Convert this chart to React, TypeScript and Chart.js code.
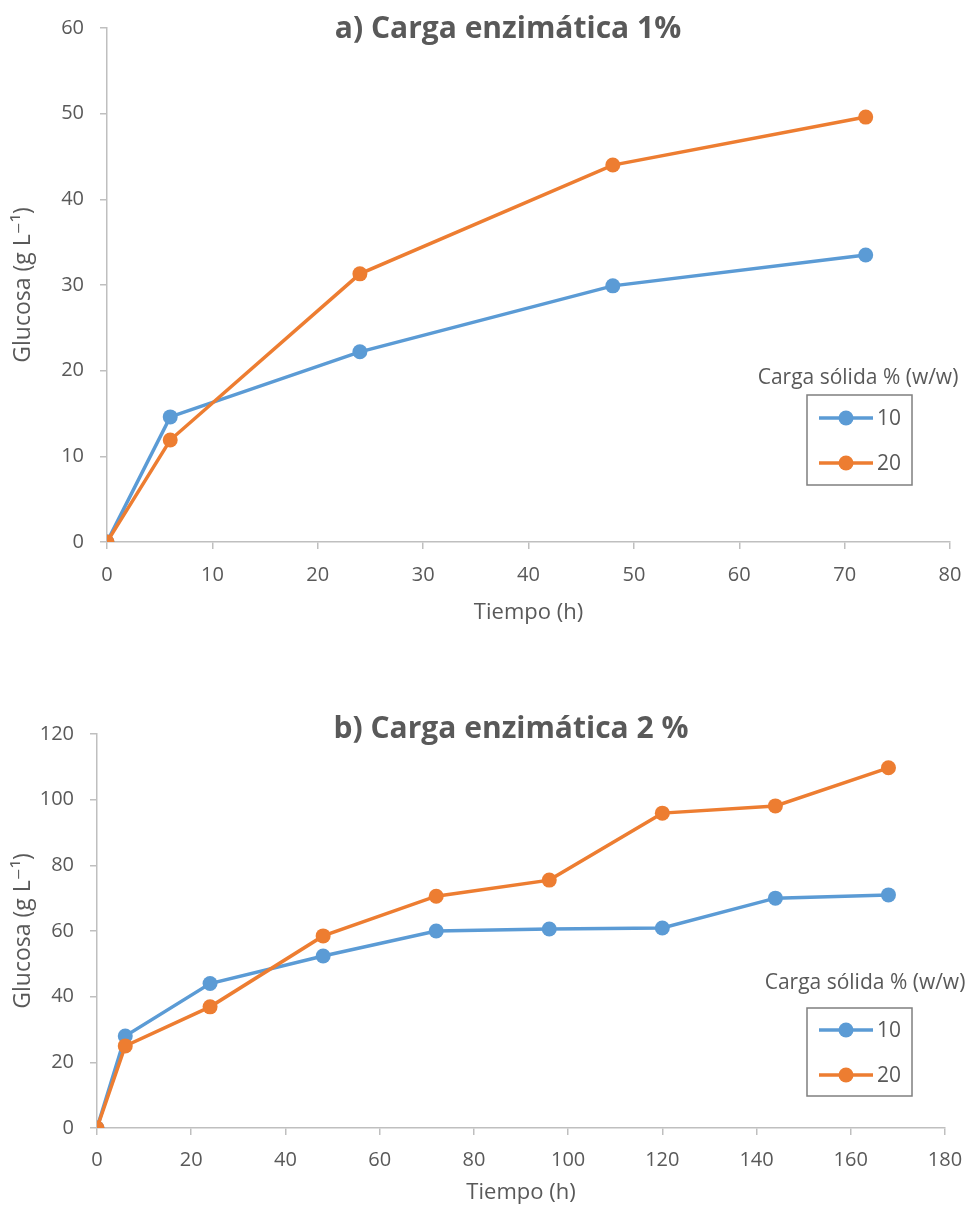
import React, { useEffect, useRef } from "react";
import { Chart, registerables } from "chart.js";
Chart.register(...registerables);

const timesA = [0, 6, 24, 48, 72];
const glucoseA10 = [0, 14.6, 22.2, 29.9, 33.5];
const glucoseA20 = [0, 11.9, 31.3, 44.0, 49.6];
const timesB = [0, 6, 24, 48, 72, 96, 120, 144, 168];
const glucoseB10 = [0, 28.0, 44.0, 52.4, 60.0, 60.6, 60.9, 70.0, 71.0];
const glucoseB20 = [0, 25.0, 36.9, 58.5, 70.6, 75.5, 95.9, 98.1, 109.7];
const seriesLabels = ["10", "20"];
const legendTitle = "Carga sólida % (w/w)";
const titleA = "a) Carga enzimática 1%";
const titleB = "b) Carga enzimática 2 %";
const xTitle = "Tiempo (h)";
const yTitle = "Glucosa (g L⁻¹)";

const FONT = '"Open Sans", "DejaVu Sans", sans-serif';
const TEXT = "#595959";
const AXIS = "#bfbfbf";
const BLUE = "#5B9BD5";
const ORANGE = "#ED7D31";

const overlayPlugin = {
  id: "overlay",
  afterDraw(chart: any, _args: any, opts: any) {
    const ctx = chart.ctx;
    ctx.save();
    ctx.fillStyle = TEXT;
    ctx.textAlign = "center";
    ctx.textBaseline = "middle";
    ctx.font = `bold 30px ${FONT}`;
    ctx.fillText(opts.title, opts.titleX, opts.titleY);
    ctx.font = `21px ${FONT}`;
    ctx.fillText(legendTitle, opts.legX, opts.legY);
    const b = opts.box;
    ctx.strokeStyle = "#7f7f7f";
    ctx.lineWidth = 1.5;
    ctx.strokeRect(b.x, b.y, b.w, b.h);
    chart.data.datasets.forEach((ds: any, i: number) => {
      const y = opts.itemY[i];
      ctx.strokeStyle = ds.borderColor;
      ctx.lineWidth = 3.5;
      ctx.beginPath();
      ctx.moveTo(b.x + 12, y);
      ctx.lineTo(b.x + 66, y);
      ctx.stroke();
      ctx.fillStyle = ds.backgroundColor;
      ctx.beginPath();
      ctx.arc(b.x + 39, y, 7.5, 0, Math.PI * 2);
      ctx.fill();
      ctx.fillStyle = TEXT;
      ctx.textAlign = "left";
      ctx.font = `21px ${FONT}`;
      ctx.fillText(ds.label, b.x + 70, y + 1);
    });
    ctx.restore();
  },
};

function makeConfig(p: any) {
  return {
    type: "line",
    data: {
      datasets: [
        {
          label: seriesLabels[0],
          data: p.x.map((t: number, i: number) => ({ x: t, y: p.y10[i] })),
          borderColor: BLUE,
          backgroundColor: BLUE,
          borderWidth: 3.5,
          pointRadius: 7.5,
          pointBorderWidth: 0,
          order: 1,
        },
        {
          label: seriesLabels[1],
          data: p.x.map((t: number, i: number) => ({ x: t, y: p.y20[i] })),
          borderColor: ORANGE,
          backgroundColor: ORANGE,
          borderWidth: 3.5,
          pointRadius: 7.5,
          pointBorderWidth: 0,
          order: 0,
        },
      ],
    },
    options: {
      animation: false,
      responsive: false,
      maintainAspectRatio: false,
      layout: { padding: { left: 0, right: p.padRight, top: p.padTop, bottom: 0 } },
      plugins: {
        legend: { display: false },
        tooltip: { enabled: false },
        title: { display: false },
        overlay: p.overlay,
      },
      scales: {
        x: {
          type: "linear",
          min: 0,
          max: p.xMax,
          ticks: { stepSize: p.xStep, color: TEXT, font: { size: 20, family: FONT }, padding: p.xTickPad },
          grid: { drawOnChartArea: false, drawTicks: true, tickLength: 7, color: AXIS, lineWidth: 1.5 },
          border: { display: true, color: AXIS, width: 1.5 },
          title: {
            display: true,
            text: xTitle,
            color: TEXT,
            font: { size: 22, family: FONT },
            padding: { top: 0, bottom: p.xTitlePad },
          },
          afterFit: (s: any) => {
            s.height = p.xHeight;
          },
        },
        y: {
          type: "linear",
          min: 0,
          max: p.yMax,
          ticks: { stepSize: p.yStep, color: TEXT, font: { size: 20, family: FONT }, padding: 16 },
          grid: { drawOnChartArea: false, drawTicks: true, tickLength: 7, color: AXIS, lineWidth: 1.5 },
          border: { display: true, color: AXIS, width: 1.5 },
          title: {
            display: true,
            text: yTitle,
            color: TEXT,
            font: { size: 23, family: FONT },
            padding: { top: 10, bottom: 0 },
          },
          afterFit: (s: any) => {
            s.width = p.yWidth;
          },
        },
      },
    },
    plugins: [overlayPlugin],
  };
}

function ChartCanvas({ cfg, width, height }: any) {
  const ref = useRef<HTMLCanvasElement | null>(null);
  useEffect(() => {
    if (!ref.current) return;
    const c = new Chart(ref.current, makeConfig(cfg) as any);
    return () => c.destroy();
  }, []);
  return <canvas ref={ref} width={width} height={height} style={{ display: "block", width, height }} />;
}

const cfgA = {
  x: timesA,
  y10: glucoseA10,
  y20: glucoseA20,
  xMax: 80,
  xStep: 10,
  yMax: 60,
  yStep: 10,
  padRight: 29,
  padTop: 21,
  xHeight: 98,
  yWidth: 107,
  xTickPad: 14,
  xTitlePad: 14,
  overlay: {
    title: titleA,
    titleX: 508,
    titleY: 29,
    legX: 858,
    legY: 378,
    box: { x: 807, y: 395, w: 105, h: 90 },
    itemY: [418, 463],
  },
};

const cfgB = {
  x: timesB,
  y10: glucoseB10,
  y20: glucoseB20,
  xMax: 180,
  xStep: 20,
  yMax: 120,
  yStep: 20,
  padRight: 34,
  padTop: 94,
  xHeight: 81,
  yWidth: 97,
  xTickPad: 13,
  xTitlePad: 3,
  overlay: {
    title: titleB,
    titleX: 511,
    titleY: 89,
    legX: 865,
    legY: 343,
    box: { x: 807, y: 368, w: 105, h: 88 },
    itemY: [390, 435],
  },
};

export default function App() {
  return (
    <div style={{ position: "absolute", left: 0, top: 0, width: 979, height: 1209, background: "#fff" }}>
      <ChartCanvas cfg={cfgA} width={979} height={640} />
      <ChartCanvas cfg={cfgB} width={979} height={569} />
    </div>
  );
}
